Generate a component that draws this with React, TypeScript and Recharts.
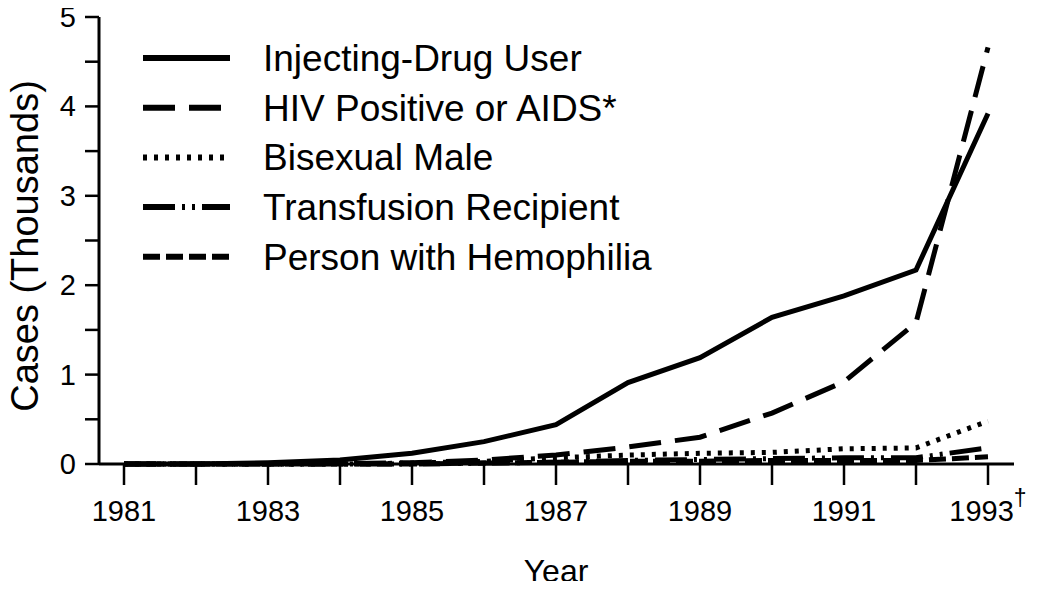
import React from "react";
import { LineChart, Line, XAxis, YAxis, Legend } from "recharts";

const years = [1981, 1982, 1983, 1984, 1985, 1986, 1987, 1988, 1989, 1990, 1991, 1992, 1993];
const injectingDrugUser = [0, 0, 0.015, 0.045, 0.12, 0.25, 0.44, 0.91, 1.19, 1.64, 1.88, 2.17, 3.92];
const hivPositive = [0, 0, 0, 0.005, 0.015, 0.045, 0.1, 0.19, 0.3, 0.57, 0.92, 1.58, 4.66];
const bisexualMale = [0, 0, 0, 0, 0.01, 0.03, 0.07, 0.1, 0.12, 0.13, 0.17, 0.18, 0.48];
const transfusionRecipient = [0, 0, 0, 0, 0, 0.01, 0.02, 0.04, 0.05, 0.06, 0.07, 0.07, 0.18];
const hemophilia = [0, 0, 0, 0, 0, 0.01, 0.02, 0.03, 0.03, 0.04, 0.04, 0.04, 0.08];

const yTicks = [0, 0.5, 1, 1.5, 2, 2.5, 3, 3.5, 4, 4.5, 5];
const xLabelYears = [1981, 1983, 1985, 1987, 1989, 1991, 1993];

const seriesDefs = [
  { key: "idu", name: "Injecting-Drug User", dash: undefined as string | undefined },
  { key: "hiv", name: "HIV Positive or AIDS*", dash: "32 14" },
  { key: "bi", name: "Bisexual Male", dash: "4 7" },
  { key: "tr", name: "Transfusion Recipient", dash: "32 7 3 7 3 7" },
  { key: "hemo", name: "Person with Hemophilia", dash: "17 6" },
];

const data = years.map((y, i) => ({
  year: y,
  idu: injectingDrugUser[i],
  hiv: hivPositive[i],
  bi: bisexualMale[i],
  tr: transfusionRecipient[i],
  hemo: hemophilia[i],
}));

const FONT = "'Liberation Sans', Arial, Helvetica, sans-serif";

const XTick = (props: any) => {
  const { x, y, payload } = props;
  const v = payload.value;
  if (!xLabelYears.includes(v)) return null;
  return (
    <text x={x} y={y + 34} textAnchor="middle" fontSize={29} fill="#000" fontFamily={FONT}>
      {String(v)}
      {v === 1993 ? (
        <tspan dy={-15} fontSize={23}>†</tspan>
      ) : null}
    </text>
  );
};

const YTick = (props: any) => {
  const { x, y, payload } = props;
  const v = payload.value;
  if (!Number.isInteger(v)) return null;
  return (
    <text x={x} y={y} dy={10} textAnchor="end" fontSize={29} fill="#000" fontFamily={FONT}>
      {String(v)}
    </text>
  );
};

const LegendContent = () => (
  <svg width={560} height={240} style={{ display: "block" }}>
    {seriesDefs.map((s, i) => {
      const cy = 20 + i * 49.7;
      return (
        <g key={s.key}>
          <line x1={10} x2={97} y1={cy} y2={cy} stroke="#000" strokeWidth={6} strokeDasharray={s.dash} />
          <text x={130} y={cy} dy={13} fontSize={37} fill="#000" fontFamily={FONT}>
            {s.name}
          </text>
        </g>
      );
    })}
  </svg>
);

export default function App() {
  return (
    <div style={{ width: 1040, height: 589, margin: -8, fontFamily: FONT, background: "#fff" }}>
      <LineChart width={1040} height={589} data={data} margin={{ top: 17, right: 26, bottom: 0, left: 0 }}>
        <XAxis
          dataKey="year"
          type="number"
          domain={[1981, 1993]}
          ticks={years}
          interval={0}
          padding={{ left: 25, right: 26 }}
          height={125}
          tickSize={21}
          axisLine={{ stroke: "#000", strokeWidth: 3 }}
          tickLine={{ stroke: "#000", strokeWidth: 2.5 }}
          tick={<XTick />}
          label={{
            content: () => (
              <text x={556} y={582} textAnchor="middle" fontSize={32} fill="#000" fontFamily={FONT}>
                Year
              </text>
            ),
          }}
        />
        <XAxis
          xAxisId="top"
          orientation="top"
          dataKey="year"
          type="number"
          domain={[1981, 1993]}
          height={0}
          tick={false}
          tickLine={false}
          axisLine={{ stroke: "#000", strokeWidth: 3 }}
        />
        <YAxis
          type="number"
          domain={[0, 5]}
          ticks={yTicks}
          interval={0}
          width={99}
          tickSize={14}
          tickMargin={9}
          axisLine={{ stroke: "#000", strokeWidth: 3 }}
          tickLine={{ stroke: "#000", strokeWidth: 2.5 }}
          tick={<YTick />}
          label={{
            content: () => (
              <text
                x={0}
                y={0}
                transform="translate(38 246) rotate(-90)"
                textAnchor="middle"
                fontSize={38}
                fill="#000"
                fontFamily={FONT}
              >
                Cases (Thousands)
              </text>
            ),
          }}
        />
        <YAxis
          yAxisId="right"
          orientation="right"
          type="number"
          domain={[0, 5]}
          width={0}
          tick={false}
          tickLine={false}
          axisLine={{ stroke: "#000", strokeWidth: 3 }}
        />
        <Legend
          layout="vertical"
          align="center"
          verticalAlign="middle"
          content={<LegendContent />}
          wrapperStyle={{ position: "absolute", top: 38, left: 133, width: 560, height: 240 }}
        />
        {seriesDefs.map((s) => (
          <Line
            key={s.key}
            dataKey={s.key}
            name={s.name}
            type="linear"
            stroke="#000"
            strokeWidth={5}
            strokeDasharray={s.dash}
            dot={false}
            activeDot={false}
            isAnimationActive={false}
          />
        ))}
      </LineChart>
    </div>
  );
}
